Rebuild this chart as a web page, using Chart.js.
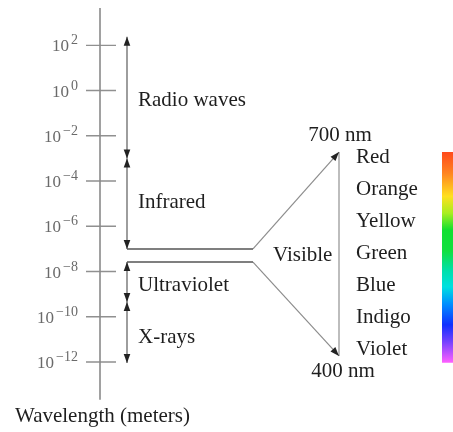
<!DOCTYPE html>
<html>
<head>
<meta charset="utf-8">
<script src="https://cdn.jsdelivr.net/npm/chart.js@4"></script>
<style>
  body { margin: 0; background: #fff; }
  #wrap { width: 453px; height: 432px; }
</style>
</head>
<body>
<div id="wrap"><canvas id="spectrum"></canvas></div>
<script>
// exponents of the wavelength axis (10^n metres)
let tickExps = [2, 0, -2, -4, -6, -8, -10, -12];

// bands along the axis, top and bottom edge as exponents
let bandNames = ['Radio waves', 'Infrared', 'Ultraviolet', 'X-rays'];
let bandTop = [2.38, -3, -7.58, -9.35];
let bandBottom = [-3, -7.0, -9.35, -12.04];
let bandLabelExp = [-0.46, -4.95, -8.6, -10.9];

// magnified visible part
let visibleNm = [700, 400];
let colorNames = ['Red', 'Orange', 'Yellow', 'Green', 'Blue', 'Indigo', 'Violet'];
let colorLabelNm = [692, 645, 598, 551, 504, 457, 410];
let rainbowNm = [700, 390];
let rainbowStops = [0, 0.1, 0.21, 0.29, 0.37, 0.47, 0.56, 0.64, 0.72, 0.82, 0.9, 1];
let rainbowColors = ['#ff4a1c', '#ff8420', '#ffe020', '#a8ee20', '#10e030', '#10e040',
                     '#00e0a8', '#00e0e0', '#0090ff', '#1030ff', '#7440ff', '#ff60ff'];

const yMin = -13.67, yMax = 3.65;
const AXIS_X = 100, TICK_L = 86, TICK_R = 116, BAND_X = 127, FORK_X = 253, VIS_X = 339, BAR_X = 447.5;
const visTopExp = -2.72, visBottomExp = -11.73;
const serif = '"Liberation Serif", "DejaVu Serif", serif';

function nmPos(nm) {
    return visBottomExp + (nm - 400) * (visTopExp - visBottomExp) / 300;
}

const lineDs = (data, color, width, extra) => Object.assign({
    data: data, showLine: true, borderColor: color, borderWidth: width,
    pointRadius: 0, fill: false, clip: false
}, extra || {});

let datasets = [];

// axis line and tick marks
datasets.push(lineDs([{x: AXIS_X, y: yMax}, {x: AXIS_X, y: yMin}], '#8a8a8a', 1.6));
let tickPts = [];
tickExps.forEach(e => {
    tickPts.push({x: TICK_L, y: e}, {x: TICK_R, y: e}, {x: TICK_R, y: null});
});
datasets.push(lineDs(tickPts, '#909090', 1.4, {spanGaps: false}));

// band arrows
for (let i = 0; i < bandNames.length; i++) {
    datasets.push(lineDs([{x: BAND_X, y: bandTop[i]}, {x: BAND_X, y: bandBottom[i]}], '#6a6a6a', 1.3,
        {arrowStart: true, arrowEnd: true}));
}

// fork to the visible range
datasets.push(lineDs([{x: BAND_X, y: bandBottom[1]}, {x: FORK_X, y: bandBottom[1]}], '#555', 1.5));
datasets.push(lineDs([{x: FORK_X, y: bandBottom[1]}, {x: VIS_X, y: nmPos(visibleNm[0])}], '#8c8c8c', 1.2,
    {arrowEnd: true}));
datasets.push(lineDs([{x: BAND_X, y: bandTop[2]}, {x: FORK_X, y: bandTop[2]}], '#555', 1.5));
datasets.push(lineDs([{x: FORK_X, y: bandTop[2]}, {x: VIS_X, y: nmPos(visibleNm[1])}], '#8c8c8c', 1.2,
    {arrowEnd: true}));
datasets.push(lineDs([{x: VIS_X, y: nmPos(visibleNm[0])}, {x: VIS_X, y: nmPos(visibleNm[1])}], '#bdbdbd', 2));

// colour bar
datasets.push(lineDs([{x: BAR_X, y: nmPos(rainbowNm[0])}, {x: BAR_X, y: nmPos(rainbowNm[1])}], function (ctx) {
    let chart = ctx.chart;
    if (!chart.chartArea) return '#f00';
    let ys = chart.scales.y;
    let g = chart.ctx.createLinearGradient(0, ys.getPixelForValue(nmPos(rainbowNm[0])), 0, ys.getPixelForValue(nmPos(rainbowNm[1])));
    rainbowStops.forEach((s, k) => g.addColorStop(s, rainbowColors[k]));
    return g;
}, 11, {borderCapStyle: 'butt'}));

const arrowHeads = {
    id: 'arrowHeads',
    afterDatasetsDraw(chart) {
        let ctx = chart.ctx;
        chart.data.datasets.forEach((ds, i) => {
            let pts = chart.getDatasetMeta(i).data;
            if (pts.length < 2) return;
            let draw = (tip, from) => {
                let a = Math.atan2(tip.y - from.y, tip.x - from.x);
                ctx.save();
                ctx.translate(tip.x, tip.y);
                ctx.rotate(a);
                ctx.beginPath();
                ctx.moveTo(0, 0);
                ctx.lineTo(-9, -3.3);
                ctx.lineTo(-9, 3.3);
                ctx.closePath();
                ctx.fillStyle = '#222';
                ctx.fill();
                ctx.restore();
            };
            if (ds.arrowStart) draw(pts[0], pts[1]);
            if (ds.arrowEnd) draw(pts[pts.length - 1], pts[pts.length - 2]);
        });
    }
};

// tick labels as 10 with a raised exponent, placed on the y scale's ticks
const powerTicks = {
    id: 'powerTicks',
    afterDraw(chart) {
        let ctx = chart.ctx;
        let ys = chart.scales.y;
        let right = ys.right - 2;
        ctx.save();
        ctx.fillStyle = '#6a6a6a';
        ctx.textBaseline = 'alphabetic';
        ys.ticks.forEach(t => {
            let py = ys.getPixelForValue(t.value);
            let sup = (t.value < 0 ? '\u2212' : '') + Math.abs(t.value);
            ctx.font = '14px ' + serif;
            ctx.textAlign = 'right';
            let supW = ctx.measureText(sup).width;
            ctx.fillText(sup, right, py - 1);
            ctx.font = '17px ' + serif;
            ctx.fillText('10', right - supW - 2, py + 6);
        });
        ctx.restore();
    }
};

const textLabels = {
    id: 'textLabels',
    afterDraw(chart) {
        let ctx = chart.ctx;
        let xs = chart.scales.x, ys = chart.scales.y;
        ctx.save();
        ctx.font = '21px ' + serif;
        ctx.fillStyle = '#1e1e1e';
        ctx.textBaseline = 'middle';
        ctx.textAlign = 'left';
        bandNames.forEach((n, i) => {
            ctx.fillText(n, xs.getPixelForValue(BAND_X + 11), ys.getPixelForValue(bandLabelExp[i]));
        });
        ctx.fillText('Visible', xs.getPixelForValue(FORK_X + 20), ys.getPixelForValue((bandBottom[1] + bandTop[2]) / 2));
        colorNames.forEach((n, i) => {
            ctx.fillText(n, xs.getPixelForValue(VIS_X + 17), ys.getPixelForValue(nmPos(colorLabelNm[i])));
        });
        ctx.textAlign = 'center';
        ctx.fillText(visibleNm[0] + ' nm', xs.getPixelForValue(VIS_X + 1), ys.getPixelForValue(nmPos(visibleNm[0])) - 17);
        ctx.fillText(visibleNm[1] + ' nm', xs.getPixelForValue(VIS_X + 4), ys.getPixelForValue(nmPos(visibleNm[1])) + 16);
        ctx.restore();
    }
};

new Chart(document.getElementById('spectrum'), {
    type: 'scatter',
    data: { datasets: datasets },
    options: {
        responsive: true,
        maintainAspectRatio: false,
        animation: false,
        events: [],
        layout: { padding: { left: 15, top: 8, right: 0, bottom: 0 } },
        scales: {
            x: { type: 'linear', display: false, min: 80, max: 453 },
            y: {
                type: 'linear',
                min: yMin,
                max: yMax,
                afterFit: (s) => { s.width = 65; },
                afterBuildTicks: (s) => { s.ticks = tickExps.map(v => ({value: v})); },
                grid: { display: false, drawTicks: false },
                border: { display: false },
                ticks: { display: false }
            }
        },
        plugins: {
            legend: { display: false },
            tooltip: { enabled: false },
            title: {
                display: true,
                position: 'bottom',
                align: 'start',
                text: 'Wavelength (meters)',
                color: '#1e1e1e',
                font: { family: serif, size: 21, weight: 'normal' },
                padding: { top: 4, bottom: 3 }
            }
        }
    },
    plugins: [arrowHeads, powerTicks, textLabels]
});
</script>
</body>
</html>
